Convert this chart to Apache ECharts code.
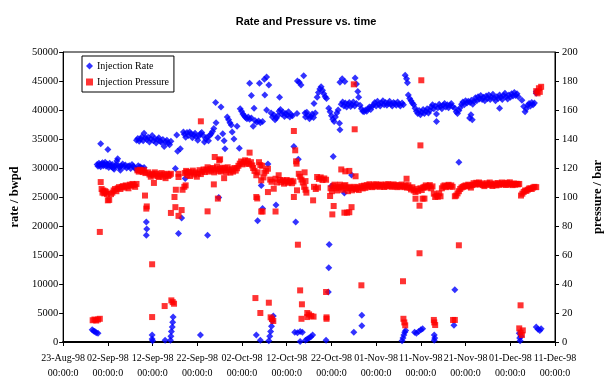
<!DOCTYPE html>
<html>
<head>
<meta charset="utf-8">
<script src="https://cdn.jsdelivr.net/npm/echarts@6/dist/echarts.min.js"></script>
<style>
html,body{margin:0;padding:0;background:#fff;}
#chart{width:612px;height:385px;}
</style>
</head>
<body>
<div id="chart"></div>
<script>
// x values are days since 23-Aug-98 00:00
const xTickLabels = ['23-Aug-98','02-Sep-98','12-Sep-98','22-Sep-98','02-Oct-98','12-Oct-98','22-Oct-98','01-Nov-98','11-Nov-98','21-Nov-98','01-Dec-98','11-Dec-98'];
const timeSuffix = '00:00:0';
const rateTicks = [0,5000,10000,15000,20000,25000,30000,35000,40000,45000,50000];
const pressureTicks = [0,20,40,60,80,100,120,140,160,180,200];

const injectionRate = [
[6.5,2100],[6.8,1900],[7.1,1800],[7.4,1600],[7.8,1500],
[8.4,34200],[10.0,33200],
[7.6,30600],[7.8,30300],[8.0,30800],[8.2,30500],[8.4,30200],[8.6,30700],[8.8,30900],[9.0,30400],[9.2,30600],[9.4,31000],[9.6,30300],[9.8,30700],[10.0,30500],[10.2,30100],[10.4,30800],[10.6,30400],[10.8,30200],[11.0,30600],[11.2,30000],[11.4,29800],[11.6,30300],[11.8,30600],[12.0,31200],[12.2,31600],[12.4,30400],[12.6,30100],[12.8,29600],[13.0,30400],[13.3,30700],[13.6,30200],[13.9,30500],[14.2,30000],[14.5,30300],[14.8,30400],[15.1,29900],[15.4,30600],[15.7,30300],[16.0,30000],[16.4,29700],[16.8,30400],[17.2,30200],[17.6,30000],[18.1,30100],[25.1,29900],[27.3,28200],
[16.4,34800],[16.7,35100],[17.0,34600],[17.3,35000],[17.6,35400],[17.9,34700],[18.1,36000],[18.4,35200],[18.7,34900],[19.0,35300],[19.3,34500],[19.6,35000],[19.9,35600],[20.2,34700],[20.5,35100],[20.8,34300],[21.1,34900],[21.4,35200],[21.7,34600],[22.0,34400],[22.3,34900],[22.6,33700],[22.9,34500],[23.2,34800],[23.5,34300],[23.8,34000],[24.1,34600],
[25.4,35700],[25.6,32900],[26.2,33300],[26.9,36200],
[18.6,20700],[18.7,19500],[18.6,18400],[19.9,1200],[19.9,500],[20.0,200],[22.8,300],[24.0,300],[24.1,1000],[24.2,1800],[24.4,2600],[24.5,3400],[24.6,4300],[25.8,18700],[26.5,21400],
[27.1,35800],[27.4,35300],[27.7,36100],[28.0,35600],[28.3,36200],[28.6,35900],[28.9,35200],[29.2,35700],[29.5,36000],[29.8,35400],[30.1,34800],[30.4,35500],[30.7,35900],[31.0,36100],[31.3,35600],[31.6,34500],[31.9,35000],[32.2,35300],[32.5,34700],[32.8,35600],[33.1,35900],[33.4,36300],[33.7,36800],
[34.2,37800],[34.1,41300],[35.3,40500],[34.6,35200],[35.7,35900],[36.0,34700],[36.2,33300],[36.7,38800],[37.0,38300],[37.3,37800],[37.6,37400],[37.8,36200],[38.2,35000],[38.9,37200],[39.4,33400],
[39.6,40200],[39.9,39800],[40.2,39300],[40.5,39000],[40.8,38700],[41.1,38500],[41.4,38800],[41.7,38400],[42.1,38600],
[41.7,44600],[42.1,42500],[42.7,40300],[42.5,37200],[42.9,38200],[43.3,37900],[43.7,38100],[44.1,37800],[44.6,38000],[43.9,44600],[45.0,45300],[45.5,45700],[46.0,44300],[45.1,42600],[45.5,40000],
[46.5,39500],[46.8,38800],[47.1,39200],[47.4,38300],[47.7,38600],[48.0,39000],[48.4,42200],[48.3,39800],[48.6,40100],[48.9,39300],[49.2,39600],[49.5,38900],[49.8,39400],[50.1,39100],[50.4,39700],[50.7,38800],[51.0,39200],[51.3,39000],
[52.3,39400],[52.4,45000],[52.8,44800],[53.2,44300],[53.8,45900],[54.1,39500],[54.2,38800],
[30.7,1200],[32.3,18400],[34.8,24900],[43.2,1200],[44.1,300],[44.3,27000],[44.6,23000],[43.5,20900],[45.8,30700],[46.0,200],[46.2,1000],[46.4,1800],[46.6,2700],[46.8,3600],[47.0,4500],[47.6,23600],[51.6,33700],[52.6,31500],[52.0,20700],[51.8,1700],[52.4,1600],[53.0,1800],[53.5,1700],[53.0,100],
[54.2,300],[54.6,500],[55.0,700],[55.4,900],[55.8,1200],
[54.5,39600],[54.8,39000],[55.1,38500],[55.4,38900],[55.7,39300],[56.1,41100],[56.0,38700],[56.4,39500],
[56.8,42200],[57.1,43000],[57.4,43600],[57.7,44000],[58.0,43400],[58.3,42800],[58.6,42300],[58.9,42000],
[59.4,40300],[59.7,39700],[60.0,39000],[60.3,38400],[60.6,38000],[60.9,38800],[61.2,39500],[61.5,40000],[61.8,37700],[61.9,36600],
[61.9,44800],[62.4,45400],[63.0,44900],[65.3,45500],[65.6,44500],[65.9,43200],[66.1,42200],
[58.8,300],[59.3,8600],[59.4,12800],[59.5,16800],[60.0,26900],[60.4,32000],[62.9,25700],[64.5,28800],[65.0,1700],[66.8,2800],[66.8,4600],
[62.2,41000],[62.5,41400],[62.8,40700],[63.1,41200],[63.4,40500],[63.7,41000],[64.0,41300],[64.3,40600],[64.6,40900],[64.9,41400],[65.2,40700],[65.6,41100],
[66.4,40800],[66.7,40200],[67.0,39800],[67.3,39700],[67.6,40000],[67.9,39800],[68.2,40200],[68.5,40500],[68.8,40100],[69.1,40600],
[69.4,40900],[69.7,41300],[70.0,40700],[70.3,41500],[70.6,41000],[70.9,40700],[71.2,41200],[71.5,41600],[71.8,40900],[72.1,41300],[72.4,40800],[72.7,41100],[73.0,41500],[73.3,41000],[73.6,40700],[73.9,41300],[74.2,41100],[74.5,40800],[74.8,41400],[75.1,41000],[75.4,40700],[75.8,41200],[76.1,40900],
[76.5,46000],[76.8,45400],[77.0,44700],
[77.2,42600],[77.5,42000],[77.8,41600],[78.1,41200],[78.4,40900],
[78.7,40300],[79.0,39800],[79.3,39400],[79.6,39900],[79.9,39200],[80.2,39600],[80.5,40100],[80.8,39400],[81.1,39800],[81.4,40200],[81.7,39500],[82.0,39900],
[75.8,200],[76.0,700],[76.2,1200],[76.4,1700],[76.6,2000],[78.6,1700],[79.0,1500],[79.5,1800],[80.0,2100],[80.4,2300],[83.0,1200],[83.0,300],[83.1,700],
[82.3,40500],[82.6,40900],[82.9,40200],[83.2,40700],[83.5,39300],[83.5,38000],[83.8,40400],[84.1,41000],[84.4,40600],[84.7,40200],[85.0,40800],[85.3,41100],[85.6,40500],[85.9,40900],[86.2,40400],[86.5,40800],[86.8,41100],[87.1,40600],
[87.6,40300],[87.9,39700],[88.2,39400],[88.5,39900],[88.8,40400],
[88.5,31000],[87.6,9000],[87.4,2900],
[89.1,41000],[89.4,41400],[89.7,40900],[90.0,41600],[90.3,41200],[90.6,41500],[90.9,38600],[91.2,39200],[91.5,38300],[91.0,41300],[91.3,41700],[91.6,41000],[91.9,41500],[92.2,42100],[92.5,41600],[92.8,42300],[93.1,41900],[93.4,42500],[93.7,41800],[94.0,42200],[94.3,41600],[94.6,42400],[94.9,42000],[95.2,42600],[95.5,41800],[95.8,42200],[96.1,42700],[96.4,42100],[96.7,41600],[97.0,42300],[97.3,42000],[97.6,40300],[97.6,42600],[97.9,42200],[98.2,41800],[98.5,42500],[98.8,42900],[99.1,42300],[99.4,41900],[99.7,42600],[100.0,42200],[100.3,42800],[100.6,42400],[100.9,43000],[101.2,42500],[101.5,42800],[101.8,42300],
[102.6,41700],[103.0,40600],[103.3,39700],[103.6,40200],[103.9,40800],[104.2,41100],[104.5,40700],[104.8,41300],[105.1,40900],[105.4,41200],[105.8,43200],[105.8,42900],
[102.0,1500],[102.1,700],[102.2,200],[102.4,1000],[105.8,2600],[106.2,2200],[106.6,2000],[106.9,2300]
];

const injectionPressure = [
[6.6,15],[7.0,15.5],[7.4,14.8],[7.8,15.5],[8.2,16],
[8.2,75.9],[8.4,110.3],
[8.6,105.5],[8.8,103],[9.0,104.5],[9.2,102.5],[9.4,104],[9.6,103.3],[9.8,102],[10.0,97.7],[10.3,98],[10.7,102],[11.0,103],[11.3,104.5],[11.6,105.5],[11.9,104],[12.2,106],[12.5,106.8],[12.8,105.5],[13.1,107],[13.4,107.5],[13.7,106.5],[14.0,108],[14.3,107.3],[14.6,106],[14.9,108.5],[15.2,107.8],[15.5,109],[15.8,108.2],[16.1,107],[16.4,109],
[16.6,118.4],[16.9,117.5],[17.2,118.8],[17.5,118],[17.8,117.2],[18.1,118.5],[18.4,116.5],[18.3,101],[18.6,92],[18.7,93.5],
[19.9,53.6],[19.9,17.2],[20.3,109.7],
[19.0,117],[19.3,115.5],[19.6,114],[19.9,116],[20.2,115],[20.5,117],[20.8,116],[21.1,114.5],[21.4,113.8],[21.7,115.5],[22.0,116.5],[22.3,114],[22.6,115.5],[22.9,113],[23.2,116],[23.5,114.5],[23.8,115.2],[24.1,116],
[22.7,24.8],[24.2,28.7],[24.5,27.5],[24.8,26.4],[24.1,89],[24.9,100],[25.1,93],[25.2,105],[25.8,87],[25.8,116],[25.8,113.8],[26.5,91],[26.7,105],[27.4,108],[27.6,117],
[27.1,107],[27.2,116.5],[27.5,118],[27.8,115],[28.1,117.2],[28.4,114.5],[28.7,116.8],[29.0,118.2],[29.3,115.5],[29.6,117],[29.9,114],[30.2,116.3],[30.5,118.5],[30.8,115.8],[30.8,152.2],[31.1,117.5],
[31.4,119],[31.7,117.2],[32.0,118.8],[32.3,90.1],[32.3,120.5],[32.6,117.5],[32.9,119.5],[33.2,118.2],[33.5,120],[33.7,108.7],[33.9,127.6],[33.8,117],[34.1,119],[34.4,121],[34.6,98.9],[34.7,118],[34.9,125.3],[35.1,126],[35.0,119.5],[35.3,117.5],[35.6,120.2],[35.9,118.4],[36.0,113],[36.2,119.8],[36.5,117],[36.8,120.5],[37.1,118.5],[37.4,116.8],[37.7,119.2],[38.0,117.5],[38.3,120],[38.6,118.2],[38.9,119.8],
[39.2,121.5],[39.5,123],[39.8,124.5],[40.1,122.5],[40.4,124],[40.7,125.3],[41.0,123],[41.3,124.8],[41.7,130.6],[41.6,122.8],[42.0,124],[42.3,121.8],
[42.5,120],[42.8,118],[43.2,115],[43.5,117],[43.8,124],[44.1,122],[44.3,111.5],[44.5,121.5],[44.8,113.5],[45.0,116.8],[45.4,118],[45.8,119.5],
[43.2,100],[43.4,99],[44.3,90],[44.6,90],[45.8,103.4],
[43.0,30.3],[44.1,20],[46.0,27.1],[46.4,17],[46.7,15.8],[47.0,14.5],
[46.3,112],[46.6,110.5],[47.1,105.7],[47.5,112.6],[47.8,110],[48.2,115],[48.5,111.7],[48.8,110.2],[49.1,111.5],[49.4,109.2],[49.7,110.8],[50.0,111.7],[50.3,109.8],[50.6,110.5],[50.9,111.2],[51.2,109.5],[51.5,110.8],
[47.5,90],[51.6,145.5],[51.9,132.2],[52.1,124.6],[52.2,123],[51.6,100],[52.3,104.6],[52.5,67.1],
[52.7,116],[53.0,114],[53.3,112],[53.6,110],[53.9,107],[54.2,105],
[53.0,35.6],[53.4,26],[53.3,16],[54.6,20],[54.6,17.2],[55.0,19],[55.5,18],[56.0,17.5],
[54.0,117],[54.2,111],[54.4,103],[55.9,97.7],[56.1,107],[56.5,105.5],[57.0,106.5],[56.8,113.8],[57.2,112.5],[57.6,113.5],[58.0,111.7],[58.4,112.8],[58.8,111.9],
[58.8,34.5],[58.9,17],[58.9,16],
[59.7,100.7],[60.2,88],[60.5,93.8],[59.8,106],[60.1,104],[60.4,107.5],[60.7,108.5],[61.0,106],[61.3,104.5],[61.6,107],[61.9,108.5],[62.2,119],[62.2,106.5],[62.5,105],[62.8,107.5],[63.1,117.7],[63.1,108.2],[63.4,106],[63.7,104],[64.0,118],[64.0,107],[62.9,89.2],[63.5,89.2],[64.0,89.5],[64.5,93],
[65.0,177.7],[65.2,146.7],[65.4,114.3],[66.7,39.1],
[64.3,106.2],[64.6,104.6],[64.9,105.8],[65.2,107],[65.5,105.5],[65.8,106.5],[66.1,104.8],[66.4,106.6],[66.7,107.5],[67.0,105.9],[67.3,107.8],[67.6,106.3],[67.9,108.2],[68.2,107],[68.5,108.8],[68.8,107.5],[69.1,106.8],[69.4,108.5],[69.7,107.2],[70.0,108.8],[70.3,107.5],[70.6,108.3],[70.9,107],[71.2,108.6],[71.5,107.8],[71.8,106.9],[72.1,108.5],[72.4,107.3],[72.7,108.9],[73.0,107.6],[73.3,108.3],[73.6,107],[73.9,108.7],[74.2,107.4],[74.5,108.2],[74.8,106.8],[75.1,108],[75.4,107.2],[75.7,108.6],[76.0,107.5],[76.3,106.8],[76.8,112.6],[76.6,108],[76.9,106.5],[77.2,108.1],[77.5,106.4],[77.8,105.2],[78.1,106.7],[78.4,104.5],[78.8,103.4],[78.8,98.8],[79.1,105.6],[79.4,104.2],[79.7,94],[80.4,98.8],[79.9,106],[80.2,104.8],[80.5,106.5],
[76.0,41.9],[76.1,16],[76.3,13.5],[76.5,11.5],
[80.1,180.5],[79.9,135.6],[79.7,61.2],
[80.8,98.9],[80.8,107],[81.1,108],[81.4,106.5],[81.7,107.5],[82.0,108.2],[82.3,106],[82.6,107.3],[82.9,102.3],[83.2,100],[83.5,101],[83.8,100.2],[84.1,102.5],[84.4,100.5],[84.7,106],[85.0,107.3],[85.3,108],[85.6,106.8],[85.9,107.6],[86.2,108.4],[86.5,107.2],[86.8,108],[87.1,107],
[82.9,15.2],[83.2,11.7],[83.0,13.5],[87.2,15.2],[87.6,15.2],
[87.6,100.5],[87.9,101],[88.2,102.5],[88.5,104],[88.8,105.5],[89.1,106.5],[89.4,107],[89.7,107.5],[88.5,66.7],
[90.0,108],[90.3,107.3],[90.6,108.5],[90.9,107.8],[91.2,106.5],[91.5,108.2],[91.8,109.5],[92.1,108.6],[92.4,109.8],[92.7,108.9],[93.0,110],[93.3,108.6],[93.6,109.4],[93.9,108.2],[94.2,107.5],[94.5,108.7],[94.8,109.5],[95.1,108.3],[95.4,110],[95.7,108.8],[96.0,107.6],[96.3,108.5],[96.6,109.3],[96.9,108],[97.2,109.6],[97.5,108.4],[97.8,109],[98.1,110],[98.4,108.7],[98.7,109.5],[99.0,108.3],[99.3,109.8],[99.6,108.6],[99.9,110.1],[100.2,109],[100.5,108.2],[100.8,109.3],[101.1,108.5],[101.4,109.1],[101.7,108.7],[102.0,109],
[102.3,25.3],[102.0,9.4],[102.3,6.5],[102.6,4.8],[102.8,8],
[102.4,101],[102.7,102.3],[103.0,103.5],[103.3,104.5],[103.6,104.2],[103.9,105],[104.2,105.8],[104.5,106],[104.8,105.5],[105.1,106.5],[105.4,107],[105.8,106.8],
[105.8,173],[106.1,171.5],[106.4,175],[106.9,176],[106.6,172.5]
];

const serif = '"Liberation Serif","DejaVu Serif",serif';
const sans = '"Liberation Sans",Arial,sans-serif';

const chart = echarts.init(document.getElementById('chart'));
chart.setOption({
  animation: false,
  backgroundColor: '#fff',
  title: {
    text: 'Rate and Pressure vs. time',
    left: 'center',
    top: 11,
    textStyle: { fontFamily: sans, fontWeight: 'bold', fontSize: 11, color: '#000' }
  },
  legend: {
    orient: 'vertical',
    left: 82, top: 56,
    backgroundColor: '#fff',
    borderColor: '#000', borderWidth: 1, borderRadius: 0,
    padding: [5, 5, 5, 4],
    itemGap: 6,
    itemWidth: 7, itemHeight: 7,
    textStyle: { fontFamily: serif, fontSize: 10, color: '#000', padding: [0,0,0,-1] },
    data: [
      { name: 'Injection Rate', icon: 'diamond' },
      { name: 'Injection Pressure', icon: 'rect' }
    ]
  },
  grid: { left: 54, right: 46, top: 52, bottom: 43, show: true, borderColor: '#000', borderWidth: 1 },
  xAxis: {
    type: 'value',
    min: 0, max: 110, interval: 10,
    axisLine: { show: true, onZero: false, lineStyle: { color: '#000', width: 2 } },
    axisTick: { show: true, length: 4, lineStyle: { color: '#000' } },
    splitLine: { show: false },
    axisLabel: {
      margin: 9,
      fontFamily: serif, fontSize: 10, color: '#000', lineHeight: 15,
      formatter: v => xTickLabels[Math.round(v / 10)] + '\n' + timeSuffix
    }
  },
  yAxis: [
    {
      type: 'value',
      min: rateTicks[0], max: rateTicks[rateTicks.length - 1], interval: rateTicks[1] - rateTicks[0],
      name: 'rate / bwpd', nameLocation: 'middle', nameGap: 39, nameRotate: 90,
      nameTextStyle: { fontFamily: serif, fontWeight: 'bold', fontSize: 12.5, color: '#000' },
      axisLine: { show: true, lineStyle: { color: '#000', width: 1 } },
      axisTick: { show: true, length: 4, lineStyle: { color: '#000' } },
      splitLine: { show: false },
      axisLabel: { margin: 5, fontFamily: serif, fontSize: 10.5, color: '#000', formatter: v => String(v) }
    },
    {
      type: 'value',
      min: pressureTicks[0], max: pressureTicks[pressureTicks.length - 1], interval: pressureTicks[1] - pressureTicks[0],
      position: 'right',
      name: 'pressure / bar', nameLocation: 'middle', nameGap: 36, nameRotate: 90,
      nameTextStyle: { fontFamily: serif, fontWeight: 'bold', fontSize: 12.5, color: '#000' },
      axisLine: { show: true, lineStyle: { color: '#000', width: 1 } },
      axisTick: { show: true, length: 4, lineStyle: { color: '#000' } },
      splitLine: { show: false },
      axisLabel: { margin: 7, fontFamily: serif, fontSize: 10.5, color: '#000', formatter: v => String(v) }
    }
  ],
  series: [
    {
      name: 'Injection Rate', type: 'scatter', yAxisIndex: 0,
      symbol: 'diamond', symbolSize: 7,
      itemStyle: { color: '#0000FF' },
      data: injectionRate
    },
    {
      name: 'Injection Pressure', type: 'scatter', yAxisIndex: 1,
      symbol: 'rect', symbolSize: 6,
      itemStyle: { color: '#FF0000' },
      data: injectionPressure
    }
  ]
});
</script>
</body>
</html>
